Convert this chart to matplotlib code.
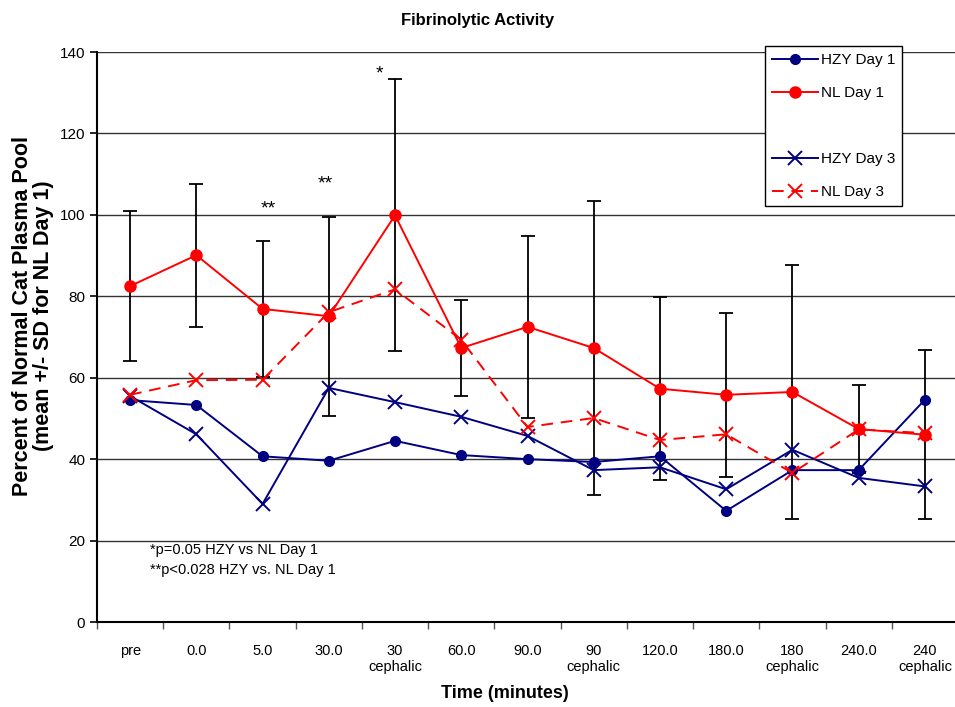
import matplotlib
matplotlib.use("Agg")
import matplotlib.pyplot as plt
from matplotlib.lines import Line2D
import numpy as np

categories = ["pre", "0.0", "5.0", "30.0", "30\ncephalic", "60.0", "90.0",
              "90\ncephalic", "120.0", "180.0", "180\ncephalic", "240.0", "240\ncephalic"]

hzy_day1 = [54.5, 53.3, 40.7, 39.6, 44.5, 41.0, 40.0, 39.3, 40.7, 27.3, 37.3, 37.3, 54.6]
nl_day1 = [82.5, 90.1, 76.9, 75.1, 99.9, 67.3, 72.5, 67.3, 57.3, 55.8, 56.5, 47.4, 46.0]
nl_day1_sd = [18.5, 17.6, 16.7, 24.4, 33.4, 11.7, 22.4, 36.1, 22.5, 20.1, 31.2, 10.8, 20.8]
hzy_day3 = [55.5, 46.1, 29.0, 57.5, 54.0, 50.4, 45.7, 37.3, 38.0, 32.6, 42.3, 35.4, 33.3]
nl_day3 = [55.8, 59.4, 59.5, 76.1, 81.7, 69.3, 47.9, 50.1, 44.7, 46.1, 36.6, 47.3, 46.4]

plt.rcParams['font.family'] = ['Liberation Sans', 'DejaVu Sans']

fig = plt.figure(figsize=(9.55, 7.07), dpi=100)
ax = fig.add_axes([97/955, 1-622/707, 861/955, 570/707])

x = np.arange(len(categories))
navy = "#000080"
red = "#FF0000"

ax.errorbar(x, nl_day1, yerr=nl_day1_sd, fmt='none', ecolor='black', elinewidth=1.3,
            capsize=5, capthick=1.3, zorder=2)
ax.plot(x, hzy_day1, color=navy, lw=1.4, marker='o', ms=7, label="HZY Day 1", zorder=3)
ax.plot(x, nl_day1, color=red, lw=1.4, marker='o', ms=8, label="NL Day 1", zorder=3)
ax.plot(x, hzy_day3, color=navy, lw=1.4, marker='x', ms=10, mew=1.4, label="HZY Day 3", zorder=3)
ax.plot(x, nl_day3, color=red, lw=1.4, ls=(0, (6, 4)), marker='x', ms=10, mew=1.4,
        label="NL Day 3", zorder=3)

ax.set_xlim(-0.5, len(categories) - 0.5)
ax.set_ylim(0, 140)
ax.set_yticks(np.arange(0, 141, 20))
ax.yaxis.grid(True, color='#333333', lw=1.0)
ax.set_axisbelow(True)
ax.set_xticks(x)
ax.set_xticklabels(categories, fontsize=10.5)
ax.set_xticks(np.arange(-0.5, len(categories), 1), minor=True)
ax.tick_params(axis='x', which='major', length=0, pad=16)
ax.tick_params(axis='x', which='minor', length=5, width=1, color='#555555')
ax.tick_params(axis='y', labelsize=11, length=5, width=1.2)
for s in ['top', 'right']:
    ax.spines[s].set_visible(False)
ax.spines['left'].set_linewidth(1.5)
ax.spines['bottom'].set_linewidth(1.5)

fig.text(505/955, 1-693/707, "Time (minutes)", ha='center', va='center',
         fontsize=13, fontweight='bold')
fig.text(33/955, 1-316/707, "Percent of Normal Cat Plasma Pool\n(mean +/- SD for NL Day 1)",
         ha='center', va='center', rotation=90, fontsize=15.5, fontweight='bold',
         linespacing=1.05)
fig.text(0.5, 1-20/707, "Fibrinolytic Activity", ha='center', va='center',
         fontsize=12, fontweight='bold')

ax.text(3.76, 134.5, "*", ha='center', va='center', fontsize=14)
ax.text(2.08, 101.5, "**", ha='center', va='center', fontsize=14)
ax.text(2.94, 107.5, "**", ha='center', va='center', fontsize=14)
ax.text(0.3, 17.8, "*p=0.05 HZY vs NL Day 1", fontsize=10.5, va='center')
ax.text(0.3, 12.8, "**p<0.028 HZY vs. NL Day 1", fontsize=10.5, va='center')

h = ax.get_legend_handles_labels()[0]
blank = Line2D([], [], color='none')
handles = [h[0], h[1], blank, h[2], h[3]]
labels = ["HZY Day 1", "NL Day 1", "", "HZY Day 3", "NL Day 3"]
leg = ax.legend(handles, labels, loc='upper left', bbox_to_anchor=(765/955, 1-46/707),
                bbox_transform=fig.transFigure, fontsize=11, frameon=True, fancybox=False,
                edgecolor='black', framealpha=1, borderaxespad=0, labelspacing=1.25,
                handlelength=3.0, handletextpad=0.2, borderpad=0.45)
leg.get_frame().set_linewidth(1.0)

fig.savefig("out.png", dpi=100)
